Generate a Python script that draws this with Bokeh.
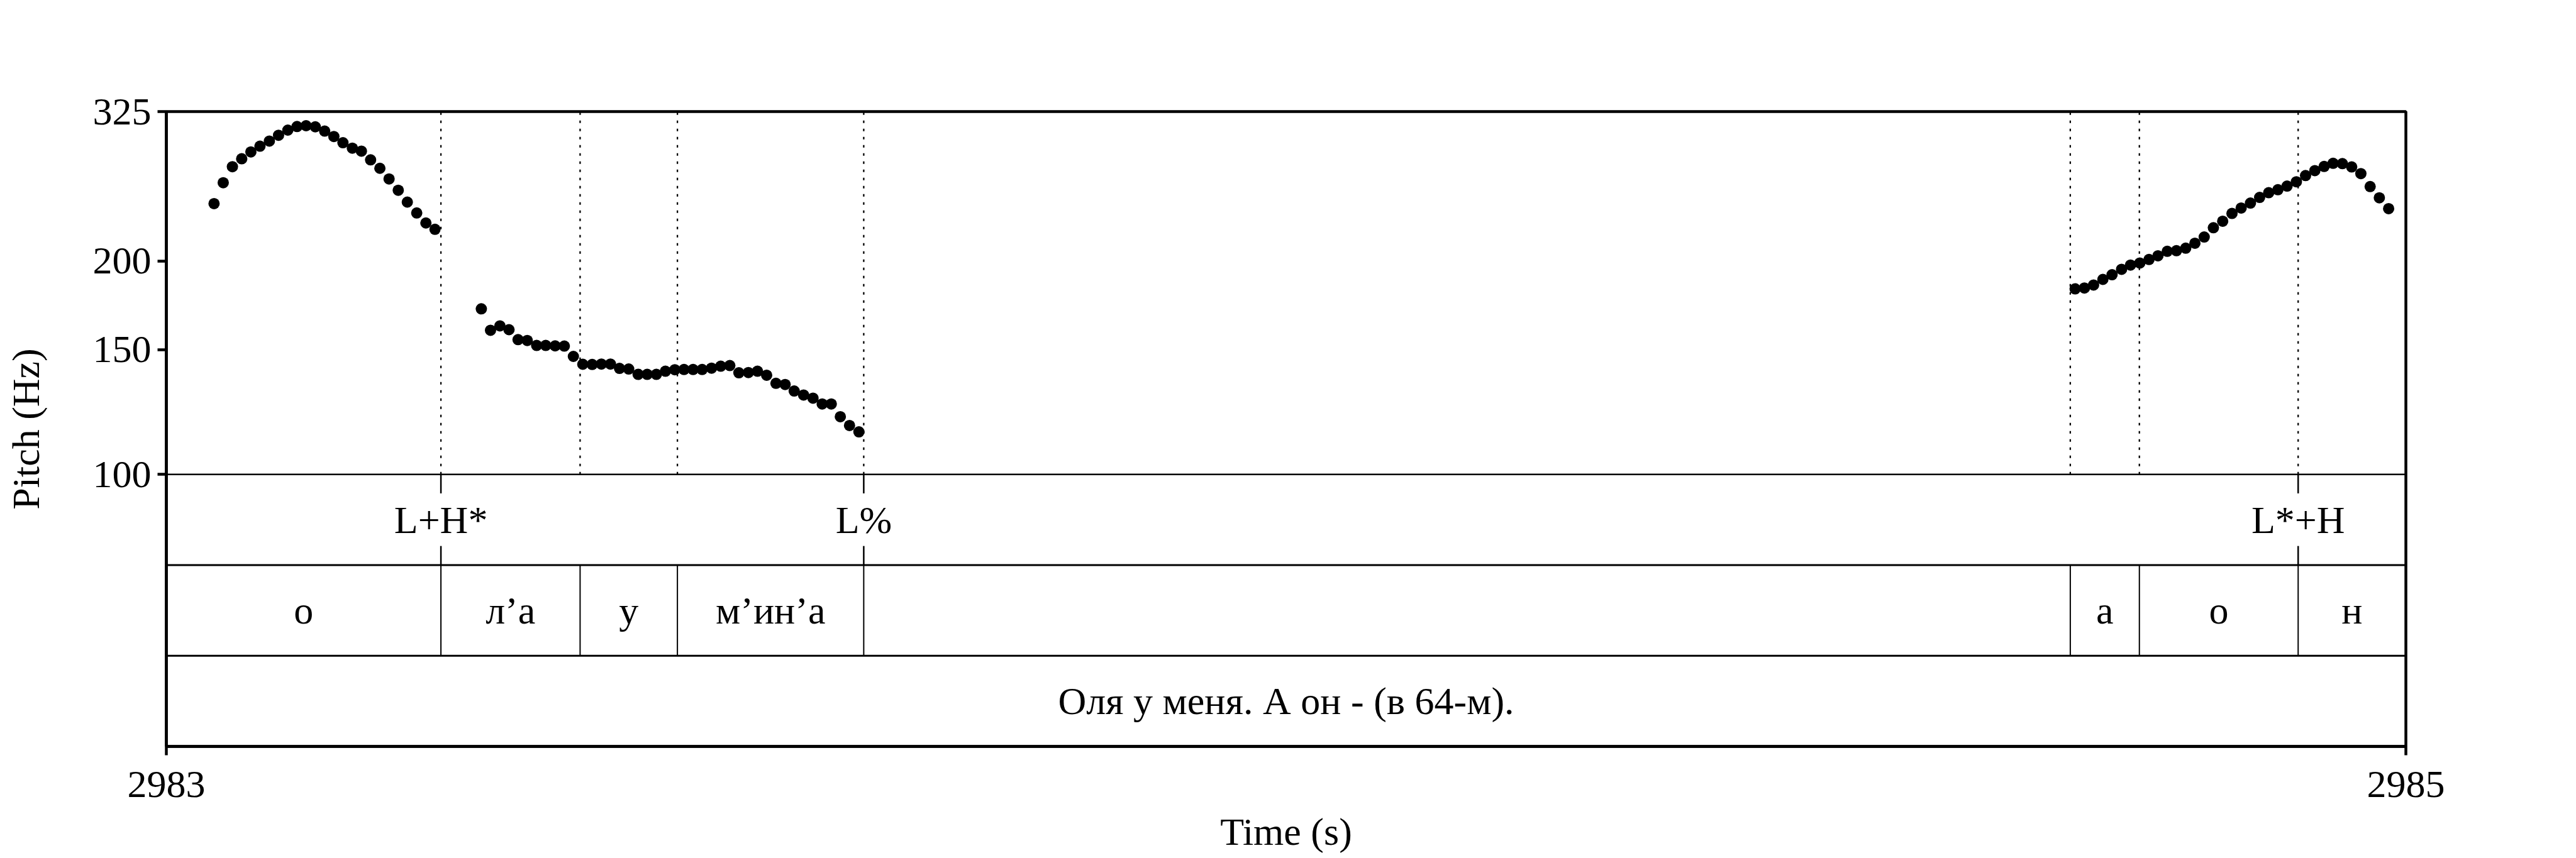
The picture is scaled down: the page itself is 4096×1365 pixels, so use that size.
from bokeh.plotting import figure
from bokeh.models import Range1d, LinearScale, FixedTicker, Span, NumeralTickFormatter
from bokeh.core.properties import value
from bokeh.embed import file_html
from bokeh.resources import INLINE

# ---------------- data ----------------
T0, T1 = 2983.0, 2985.0
PITCH_MIN, PITCH_MAX = 100.0, 325.0
y_ticks = [100, 150, 200, 325]
x_ticks = [2983, 2985]
x_title = "Time (s)"
y_title = "Pitch (Hz)"

pitch_t1 = [2983.0426, 2983.0508, 2983.0590, 2983.0673, 2983.0755, 2983.0836, 2983.0920,
            2983.1002, 2983.1085, 2983.1167, 2983.1248, 2983.1330, 2983.1414, 2983.1496,
            2983.1577, 2983.1661, 2983.1742, 2983.1824, 2983.1907, 2983.1989, 2983.2071,
            2983.2152, 2983.2236, 2983.2318, 2983.2399]
pitch_hz1 = [241.0, 257.9, 271.7, 278.8, 285.1, 290.4, 295.3, 300.9, 306.0, 309.6, 310.4,
             309.3, 305.0, 299.7, 293.7, 288.6, 285.8, 277.8, 270.3, 261.1, 251.7, 242.2,
             233.8, 226.3, 221.7]

pitch_t2 = [2983.2813, 2983.2895, 2983.2979, 2983.3060, 2983.3141, 2983.3223, 2983.3307,
            2983.3388, 2983.3472, 2983.3554, 2983.3635, 2983.3719, 2983.3803, 2983.3885,
            2983.3966, 2983.4047, 2983.4129, 2983.4213, 2983.4294, 2983.4376, 2983.4457,
            2983.4541, 2983.4623, 2983.4704, 2983.4785, 2983.4869, 2983.4951, 2983.5032,
            2983.5113, 2983.5198, 2983.5279, 2983.5361, 2983.5444, 2983.5526, 2983.5607,
            2983.5691, 2983.5775, 2983.5857, 2983.5938, 2983.6019, 2983.6101, 2983.6185]
pitch_hz2 = [171.2, 159.7, 162.0, 160.0, 154.9, 154.5, 152.0, 152.0, 151.8, 151.7, 146.7,
             143.0, 142.9, 143.1, 143.1, 141.1, 140.8, 138.4, 138.4, 138.4, 139.8, 140.5,
             140.6, 140.6, 140.6, 141.2, 142.1, 142.4, 139.1, 139.2, 139.8, 138.0, 134.4,
             133.9, 131.1, 129.4, 128.1, 125.7, 125.7, 120.6, 117.2, 114.8]

pitch_t3 = [2984.7046, 2984.7129, 2984.7211, 2984.7294, 2984.7376, 2984.7461, 2984.7541,
            2984.7624, 2984.7706, 2984.7786, 2984.7869, 2984.7951, 2984.8034, 2984.8116,
            2984.8199, 2984.8281, 2984.8364, 2984.8447, 2984.8529, 2984.8612, 2984.8694,
            2984.8775, 2984.8857, 2984.8939, 2984.9022, 2984.9104, 2984.9187, 2984.9270,
            2984.9350, 2984.9433, 2984.9516, 2984.9598, 2984.9681, 2984.9763, 2984.9846]
pitch_hz3 = [182.7, 183.2, 185.0, 188.4, 191.3, 194.7, 197.4, 198.7, 201.0, 203.4, 206.4,
             206.8, 208.5, 211.9, 216.2, 222.8, 227.6, 233.4, 237.6, 241.4, 245.9, 249.7,
             252.1, 255.1, 258.7, 264.0, 268.3, 271.9, 274.7, 274.4, 271.5, 265.7, 254.7,
             245.6, 237.1]

# tone tier (points)
tone_times = [2983.2452, 2983.6228, 2984.9038]
tone_labels = ["L+H*", "L%", "L*+H"]

# segment tier (intervals)
seg_bounds = [2983.0, 2983.2452, 2983.3695, 2983.4564, 2983.6228, 2984.7003, 2984.7620,
              2984.9038, 2985.0]
seg_labels = ["о", "л’а", "у", "м’ин’а", "", "а", "о", "н"]

# sentence tier
sent_bounds = [2983.0, 2985.0]
sent_labels = ["Оля у меня. А он - (в 64-м)."]

# ---------------- layout ----------------
FONT = "Liberation Serif"
FS = "62px"
W, H = 4096, 1365
N_TIERS = 3
PITCH_UNITS = 4  # pitch area height in tier units
y_lo = PITCH_MIN / (PITCH_MAX / PITCH_MIN) ** (N_TIERS / PITCH_UNITS)

p = figure(width=W, height=H, output_backend="svg", toolbar_location=None,
           x_range=Range1d(T0, T1), y_range=Range1d(y_lo, PITCH_MAX),
           y_axis_type="log", min_border_left=264, min_border_right=271,
           min_border_top=177, min_border_bottom=178)
p.extra_y_ranges = {"tiers": Range1d(0, N_TIERS + PITCH_UNITS)}
p.extra_y_scales = {"tiers": LinearScale()}

p.xgrid.visible = False
p.ygrid.visible = False
p.background_fill_color = "white"
p.border_fill_color = "white"
p.outline_line_color = "black"
p.outline_line_width = 4.5

for ax in (p.xaxis[0], p.yaxis[0]):
    ax.axis_line_width = 4.5
    ax.axis_line_color = "black"
    ax.major_tick_line_width = 4.5
    ax.major_tick_line_color = "black"
    ax.major_tick_in = 0
    ax.major_tick_out = 14
    ax.minor_tick_line_color = None
    ax.major_label_text_font = FONT
    ax.major_label_text_font_size = FS
    ax.major_label_text_color = "black"
    ax.axis_label_text_font = FONT
    ax.axis_label_text_font_size = FS
    ax.axis_label_text_font_style = "normal"
    ax.axis_label_text_color = "black"
    ax.formatter = NumeralTickFormatter(format="0")

p.yaxis.ticker = FixedTicker(ticks=y_ticks, minor_ticks=[])
p.xaxis.ticker = FixedTicker(ticks=x_ticks, minor_ticks=[])
p.yaxis.axis_label = y_title
p.xaxis.axis_label = x_title
p.yaxis.major_label_standoff = 10
p.yaxis.axis_label_standoff = 70
p.xaxis.major_label_standoff = 26
p.xaxis.axis_label_standoff = 18

# horizontal separators
p.add_layout(Span(location=N_TIERS, dimension="width", y_range_name="tiers",
                  line_color="black", line_width=2.5))
for loc in (1, 2):
    p.add_layout(Span(location=loc, dimension="width", y_range_name="tiers",
                      line_color="black", line_width=3))

inner = seg_bounds[1:-1]
top = N_TIERS + PITCH_UNITS
# dotted boundaries in pitch area
p.segment(x0=inner, y0=[N_TIERS] * len(inner), x1=inner, y1=[top] * len(inner),
          y_range_name="tiers", line_color="black", line_width=2.3, line_dash="4 9")
# interval boundaries in segment tier
p.segment(x0=inner, y0=[1] * len(inner), x1=inner, y1=[2] * len(inner),
          y_range_name="tiers", line_color="black", line_width=2)
# point ticks in tone tier
n = len(tone_times)
p.segment(x0=tone_times, y0=[3] * n, x1=tone_times, y1=[2.79] * n,
          y_range_name="tiers", line_color="black", line_width=2.5)
p.segment(x0=tone_times, y0=[2.21] * n, x1=tone_times, y1=[2] * n,
          y_range_name="tiers", line_color="black", line_width=2.5)

# labels
p.text(x=tone_times, y=[2.5] * n, text=tone_labels, y_range_name="tiers",
       text_font=value(FONT), text_font_size=FS, text_align="center",
       text_baseline="middle", text_color="black")
seg_mid = [(a + b) / 2 for a, b in zip(seg_bounds[:-1], seg_bounds[1:])]
p.text(x=seg_mid, y=[1.5] * len(seg_mid), text=seg_labels, y_range_name="tiers",
       text_font=value(FONT), text_font_size=FS, text_align="center",
       text_baseline="middle", text_color="black")
sent_mid = [(a + b) / 2 for a, b in zip(sent_bounds[:-1], sent_bounds[1:])]
p.text(x=sent_mid, y=[0.5] * len(sent_mid), text=sent_labels, y_range_name="tiers",
       text_font=value(FONT), text_font_size=FS, text_align="center",
       text_baseline="middle", text_color="black")

# pitch points
for t, hz in ((pitch_t1, pitch_hz1), (pitch_t2, pitch_hz2), (pitch_t3, pitch_hz3)):
    p.scatter(x=t, y=hz, size=18, marker="circle", fill_color="black", line_color=None)

open("out.html", "w").write(file_html(p, INLINE))
